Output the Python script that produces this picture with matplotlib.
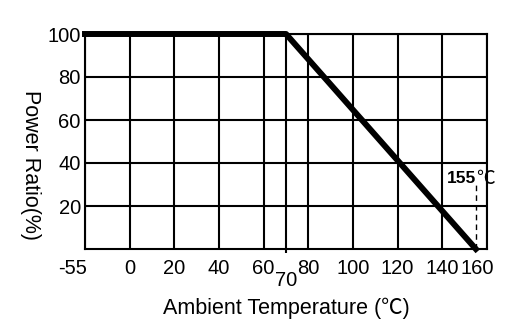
import numpy as np
import matplotlib
matplotlib.use("Agg")
import matplotlib.pyplot as plt
import matplotlib.transforms as mtransforms

plt.rcParams['font.family'] = ['Liberation Sans', 'Noto Sans CJK SC', 'DejaVu Sans']

# derating curve
temp = [-55, 70, 155]
power = [100, 100, 0]

x_ticks = [-55, 0, 20, 40, 60, 80, 100, 120, 140, 160]
x_tick_labels = ["-55", "0", "20", "40", "60", "80", "100", "120", "140", "160"]
y_ticks = [20, 40, 60, 80, 100]
knee_temp = 70
max_temp = 155


# the -55..0 segment is squeezed to the width of 20 degrees
def fwd(x):
    x = np.asarray(x, dtype=float)
    return np.where(x < 0, x * 20.0 / 55.0, x)


def inv(y):
    y = np.asarray(y, dtype=float)
    return np.where(y < 0, y * 55.0 / 20.0, y)


fig = plt.figure(figsize=(5.27, 3.31), dpi=100)
ax = fig.add_axes([85 / 527, 82 / 331, 402 / 527, 215 / 331])
ax.set_xscale('function', functions=(fwd, inv))
ax.set_xlim(-55, 160)
ax.set_ylim(0, 100)

ax.set_xticks(x_ticks)
ax.set_xticklabels(x_tick_labels)
ax.set_xticks([knee_temp], minor=True)
ax.set_xticklabels([str(knee_temp)], minor=True)
ax.set_yticks(y_ticks)

ax.tick_params(axis='both', which='major', length=0, labelsize=14.5, pad=7)
ax.tick_params(axis='x', which='minor', length=3, width=1.5, labelsize=14.5, pad=13)
ax.tick_params(axis='y', pad=3)

# nudge edge labels like the original
lbls = ax.get_xticklabels()
lbls[0].set_horizontalalignment('right')
lbls[0].set_transform(lbls[0].get_transform() +
                      mtransforms.ScaledTranslation(2 / 100, 0, fig.dpi_scale_trans))
lbls[-1].set_transform(lbls[-1].get_transform() +
                       mtransforms.ScaledTranslation(-10 / 100, 0, fig.dpi_scale_trans))

ax.grid(True, which='both', color='black', lw=1.5)
for s in ax.spines.values():
    s.set_color('black')
    s.set_linewidth(1.5)

ax.plot(temp, power, color='black', lw=4.3, clip_on=False, zorder=5,
        solid_capstyle='projecting')

ax.plot([max_temp, max_temp], [0, 30], color='black', lw=1, ls=(0, (4, 3)), zorder=4)
ax.text(max_temp, 33, "155", fontsize=12.5, fontweight='bold', ha='right', va='center')
ax.text(max_temp, 33, "℃", fontsize=13.5, ha='left', va='center',
        family=['Noto Sans CJK SC', 'DejaVu Sans'])

ax.set_xlabel("Ambient Temperature (℃)", fontsize=15.5)
ax.set_ylabel("Power Ratio(%)", fontsize=15.5, rotation=-90, va='center')
ax.yaxis.set_label_coords(-0.135, 0.39)
ax.xaxis.set_label_coords(0.5, -0.225)

fig.savefig("out.png", dpi=100)
